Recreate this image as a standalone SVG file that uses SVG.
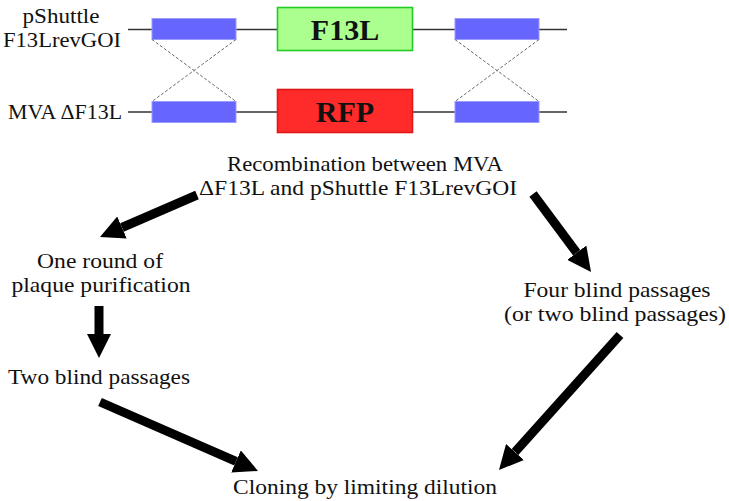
<svg xmlns="http://www.w3.org/2000/svg" width="729" height="501" viewBox="0 0 729 501">
<style>
text{font-family:"Liberation Serif","Times New Roman",serif;fill:#111}
.lbl{font-size:22px;text-anchor:middle}
.body{font-size:21.5px;text-anchor:middle}
.gene{font-size:30px;font-weight:bold;text-anchor:middle}
.dna{stroke:#333;stroke-width:1.6;fill:none}
.hom{fill:#6666ff;stroke:#9a9aff;stroke-width:1}
.cross{stroke:#666;stroke-width:1;stroke-dasharray:3 2;fill:none}
.arr{stroke:#000;stroke-width:9;fill:none;marker-end:url(#head)}
</style>
<defs>
<marker id="head" markerUnits="userSpaceOnUse" markerWidth="24" markerHeight="24" viewBox="0 0 24 24" refX="0" refY="12" orient="auto">
<path d="M0,0 L24,12 L0,24 Z" fill="#000"/>
</marker>
</defs>
<rect width="729" height="501" fill="#fff"/>

<g id="pshuttle">
<line class="dna" x1="128" y1="29.5" x2="567" y2="29.5"/>
<rect class="hom" x="152" y="18.5" width="84" height="21"/>
<rect class="hom" x="455" y="18.5" width="84" height="21"/>
<text class="lbl" x="61" y="23" textLength="77" lengthAdjust="spacingAndGlyphs">pShuttle</text>
<text class="lbl" x="62" y="46.5" textLength="118" lengthAdjust="spacingAndGlyphs">F13LrevGOI</text>
</g>
<g id="f13l">
<rect x="277.5" y="7.5" width="135" height="43" fill="#aaff8f" stroke="#22cc22" stroke-width="1.6"/>
<text class="gene" x="345" y="39.5">F13L</text>
</g>
<g id="mva">
<line class="dna" x1="128" y1="112" x2="567" y2="112"/>
<rect class="hom" x="152" y="101.5" width="84" height="21"/>
<rect class="hom" x="455" y="101.5" width="84" height="21"/>
<text class="lbl" x="65" y="119" textLength="114" lengthAdjust="spacingAndGlyphs">MVA ΔF13L</text>
</g>
<g id="rfp">
<rect x="277.5" y="89.5" width="135" height="43" fill="#ff2a2a" stroke="#e01818" stroke-width="1.6"/>
<text class="gene" x="345" y="122">RFP</text>
</g>

<g id="crossovers">
<line class="cross" x1="152" y1="39.5" x2="236" y2="101.5"/>
<line class="cross" x1="236" y1="39.5" x2="152" y2="101.5"/>
<line class="cross" x1="455" y1="39.5" x2="539" y2="101.5"/>
<line class="cross" x1="539" y1="39.5" x2="455" y2="101.5"/>
</g>

<g id="recombination">
<text class="body" x="365" y="171" textLength="276" lengthAdjust="spacingAndGlyphs">Recombination between MVA</text>
<text class="body" x="358" y="195" textLength="318" lengthAdjust="spacingAndGlyphs">ΔF13L and pShuttle F13LrevGOI</text>
</g>
<g id="plaque">
<text class="body" x="100" y="268" textLength="126" lengthAdjust="spacingAndGlyphs">One round of</text>
<text class="body" x="101" y="292" textLength="179" lengthAdjust="spacingAndGlyphs">plaque purification</text>
</g>
<g id="two-blind">
<text class="body" x="99" y="384" textLength="182" lengthAdjust="spacingAndGlyphs">Two blind passages</text>
</g>
<g id="four-blind">
<text class="body" x="617" y="297" textLength="187" lengthAdjust="spacingAndGlyphs">Four blind passages</text>
<text class="body" x="615" y="321" textLength="222" lengthAdjust="spacingAndGlyphs">(or two blind passages)</text>
</g>
<g id="cloning">
<text class="body" x="365" y="494" textLength="264" lengthAdjust="spacingAndGlyphs">Cloning by limiting dilution</text>
</g>

<g id="connectors">
<line class="arr" x1="197" y1="195" x2="122" y2="227.5"/>
<line class="arr" x1="533" y1="194" x2="576.7" y2="252.7"/>
<line class="arr" x1="99" y1="306" x2="99" y2="334"/>
<line class="arr" x1="100" y1="402" x2="236" y2="461.4"/>
<line class="arr" x1="620" y1="335" x2="515" y2="452.1"/>
</g>
</svg>
